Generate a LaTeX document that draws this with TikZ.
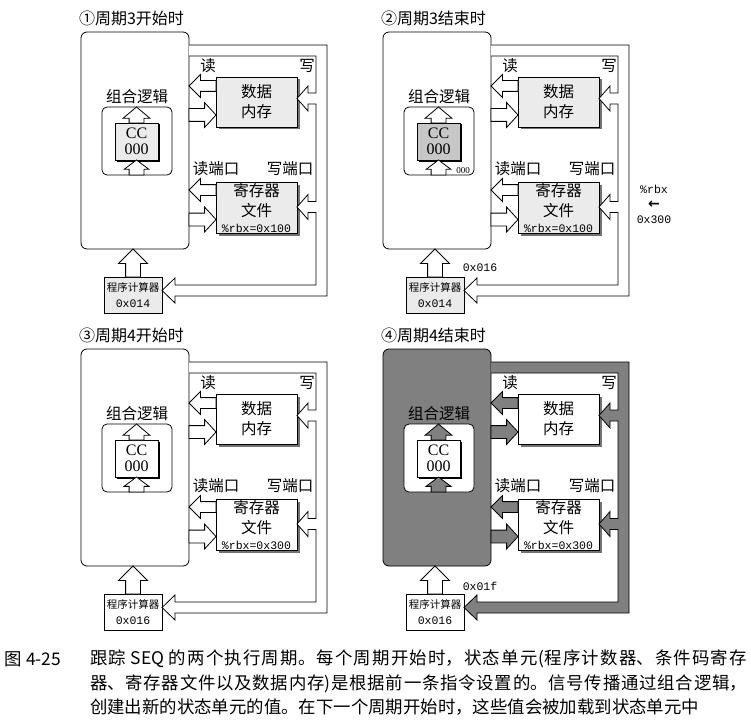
\documentclass[tikz,border=0pt]{standalone}
\usepackage{fontspec}
\setmainfont{Liberation Serif}
\setmonofont{Liberation Mono}
\newfontfamily\cjk{Noto Sans CJK SC}
\newfontfamily\symb{DejaVu Sans}
\usetikzlibrary{shapes.arrows,shadows}
\XeTeXlinebreaklocale "zh"
\XeTeXlinebreakskip=0pt plus 3pt

\definecolor{lightgrain}{gray}{0.92}
\definecolor{midgrain}{gray}{0.78}
\definecolor{darkgrain}{gray}{0.5}

\tikzset{
  every node/.style={inner sep=0pt, outer sep=0pt},
  zh/.style={font=\cjk\fontsize{15.5}{20}\selectfont},
  hex/.style={font=\ttfamily\fontsize{11.5}{15}\selectfont},
  logicbox/.style={draw, rounded corners=6pt, fill=white, minimum width=108pt, minimum height=217pt},
  ccwrap/.style={draw, rounded corners=5pt, fill=white, minimum width=70pt, minimum height=68pt},
  ccreg/.style={draw, fill=lightgrain, minimum width=43pt, minimum height=37pt, align=center,
    font=\fontsize{16}{16}\selectfont,
    drop shadow={shadow xshift=1.5pt, shadow yshift=-1.5pt, fill=black, opacity=1}},
  statebox/.style={draw, fill=lightgrain, minimum width=81pt, align=center, zh,
    drop shadow={shadow xshift=2.5pt, shadow yshift=-2.5pt, fill=black!55, opacity=1}},
  pcbox/.style={draw, fill=lightgrain, minimum width=58pt, minimum height=36pt, align=center,
    font=\cjk\fontsize{10.5}{16}\selectfont},
  flow/.style={single arrow, draw, fill=white, minimum width=0pt},
  pcflow/.style={flow, fill=white},
  bus/.style={draw, fill=white},
  toleft/.style={shape border rotate=180},
  toright/.style={shape border rotate=0},
  toup/.style={shape border rotate=90},
}

% one panel: #1 title, #2 rbx value, #3 PC value
\newcommand{\statepanel}[3]{%
  \node[font=\cjk\fontsize{16}{18}\selectfont, anchor=west] (title) at (79,18) {#1};
  \node[logicbox] (logic) at (135,140.5) {};
  \node[zh] (logicname) at (137,97) {组合逻辑};
  \node[ccwrap] (ccbox) at (137,141) {};
  \node[ccreg] (cc) at (136.5,141.5) {CC\\000};
  \node[statebox, minimum height=50pt] (dmem) at (256.5,102) {数据\\内存};
  \node[statebox, minimum height=51pt] (regf) at (256.5,207.5)
    {寄存器\\文件\\[-4pt]{\ttfamily\fontsize{11.5}{13}\selectfont\%rbx=0x#2}};
  \node[pcbox] (pc) at (133,295) {程序计算器\\{\ttfamily\fontsize{11.5}{13}\selectfont 0x#3}};
  \node[zh] (rd) at (208,66) {读};
  \node[zh] (wr) at (307,66) {写};
  \node[zh] (rdport) at (216,169) {读端口};
  \node[zh] (wrport) at (290,169) {写端口};
  % write-back loop
  \draw[bus] (logic.east |- 0,45) -- (327,45) -- (327,296) -- (175,296) -- (175,303)
    -- (pc.east |- 0,290.5) -- (175,278) -- (175,285) -- (316,285) -- (316,212.5)
    -- (308,212.5) -- (308,219.5) -- (regf.east |- 0,207) -- (308,194.5) -- (308,201.5)
    -- (316,201.5) -- (316,104) -- (308,104) -- (308,111) -- (dmem.east |- 0,98.5)
    -- (308,86) -- (308,93) -- (316,93) -- (316,56) -- (logic.east |- 0,56);
  % hollow arrows
  \node[flow, toleft, minimum height=27pt, inner ysep=5pt, single arrow head extend=6pt, anchor=tail] (dmemrd) at ([yshift=16pt]dmem.west) {};
  \node[flow, toright, minimum height=27pt, inner ysep=6pt, single arrow head extend=6pt, single arrow tip angle=95, anchor=tip] (dmemwr) at ([yshift=-13pt]dmem.west) {};
  \node[flow, toleft, minimum height=27pt, inner ysep=5pt, single arrow head extend=6pt, anchor=tail] (regfrd) at ([yshift=17.5pt]regf.west) {};
  \node[flow, toright, minimum height=27pt, inner ysep=6pt, single arrow head extend=6pt, single arrow tip angle=95, anchor=tip] (regfwr) at ([yshift=-12pt]regf.west) {};
  \node[flow, toup, minimum height=16pt, inner xsep=7pt, single arrow head extend=6pt, single arrow tip angle=100, anchor=tail] (ccout) at (cc.north) {};
  \node[flow, toup, minimum height=15pt, inner xsep=7pt, single arrow head extend=5pt, single arrow tip angle=106, anchor=tail] (ccin) at (ccbox.south -| cc.south) {};
  \node[pcflow, toup, minimum height=28pt, inner xsep=7pt, single arrow head extend=7pt, anchor=tail] (pcout) at (pc.north) {};
}

\begin{document}
\begin{tikzpicture}[x=1pt, y=-1pt, line width=0.8pt]
\useasboundingbox (0,0) rectangle (751,722);

\begin{scope}[name prefix=p1-]
  \statepanel{①周期3开始时}{100}{014}
\end{scope}

\begin{scope}[shift={(302,0)}, name prefix=p2-, ccreg/.append style={fill=midgrain}]
  \statepanel{②周期3结束时}{100}{014}
  \node[font=\fontsize{9}{9}\selectfont] (ccnext) at (161,171) {000};
  \node[hex] (pcnext) at (178,268) {0x016};
  \node[hex, align=center] (rbxnext) at (352,204) {\%rbx\\{\symb\bfseries\fontsize{14}{15}\selectfont ←}\\0x300};
\end{scope}

\begin{scope}[shift={(0,317)}, name prefix=p3-, statebox/.append style={fill=white},
    ccreg/.append style={fill=white}, pcbox/.append style={fill=white}]
  \statepanel{③周期4开始时}{300}{016}
\end{scope}

\begin{scope}[shift={(302,317)}, name prefix=p4-, statebox/.append style={fill=white},
    ccreg/.append style={fill=white}, pcbox/.append style={fill=white},
    logicbox/.append style={fill=darkgrain}, flow/.append style={fill=darkgrain},
    bus/.append style={fill=darkgrain}]
  \statepanel{④周期4结束时}{300}{016}
  \node[hex] (pcnext) at (178,269) {0x01f};
\end{scope}

% caption
\node[font=\cjk\fontsize{17.4}{24.5}\selectfont, anchor=west] (fignum) at (5,659) {图 4-25};
\node[font=\cjk\fontsize{17.4}{24.5}\selectfont, text width=657pt, align=justify, anchor=north west] (caption) at (90,650)
  {跟踪 SEQ 的两个执行周期。每个周期开始时，状态单元(程序计数器、条件码寄存\linebreak
   器、寄存器文件以及数据内存)是根据前一条指令设置的。信号传播通过组合逻辑，\linebreak
   创建出新的状态单元的值。在下一个周期开始时，这些值会被加载到状态单元中};
\end{tikzpicture}
\end{document}
